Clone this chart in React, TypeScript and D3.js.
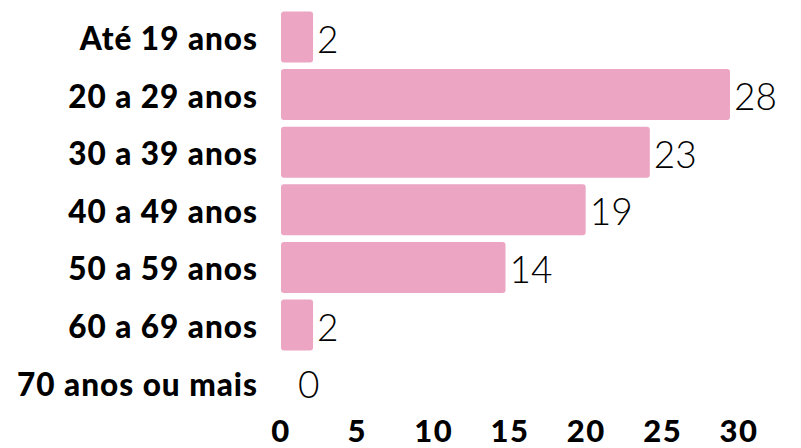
import React from "react";
import * as d3 from "d3";

const categories = [
  "Até 19 anos",
  "20 a 29 anos",
  "30 a 39 anos",
  "40 a 49 anos",
  "50 a 59 anos",
  "60 a 69 anos",
  "70 anos ou mais",
];
const values = [2, 28, 23, 19, 14, 2, 0];
const ticks = [0, 5, 10, 15, 20, 25, 30];

const W = 801;
const H = 448;
const COLOR = "#eca5c2";

export default function App() {
  const x = d3.scaleLinear().domain([0, 28]).range([281, 730]);
  const xAxis = d3.scaleLinear().domain([0, 30]).range([281, 739]);
  const y = d3
    .scaleBand<string>()
    .domain(categories)
    .range([8.2, 411.4])
    .paddingInner(0.115)
    .paddingOuter(0.0575);

  return (
    <svg
      width={W}
      height={H}
      style={{ position: "absolute", left: 0, top: 0, background: "#fff" }}
    >
      {categories.map((c, i) => {
        const yc = (y(c) as number) + y.bandwidth() / 2;
        const w = x(values[i]) - x(0);
        return (
          <g key={c}>
            <text
              x={258}
              y={yc + 1}
              textAnchor="end"
              dominantBaseline="central"
              fontFamily="Lato"
              fontWeight={900}
              fontSize={31.5}
              letterSpacing={1}
            >
              {c}
            </text>
            {w > 0 && (
              <rect
                x={x(0)}
                y={y(c)}
                width={w}
                height={y.bandwidth()}
                rx={3}
                fill={COLOR}
              />
            )}
            <text
              x={x(values[i]) + (values[i] === 0 ? 17 : 4)}
              y={yc + 1}
              dominantBaseline="central"
              fontFamily="Lato"
              fontWeight={300}
              fontSize={37}
            >
              {values[i]}
            </text>
          </g>
        );
      })}
      {ticks.map((t) => (
        <text
          key={t}
          x={xAxis(t)}
          y={442}
          textAnchor="middle"
          fontFamily="Lato"
          fontWeight={900}
          fontSize={31}
          letterSpacing={1.5}
        >
          {t}
        </text>
      ))}
    </svg>
  );
}
